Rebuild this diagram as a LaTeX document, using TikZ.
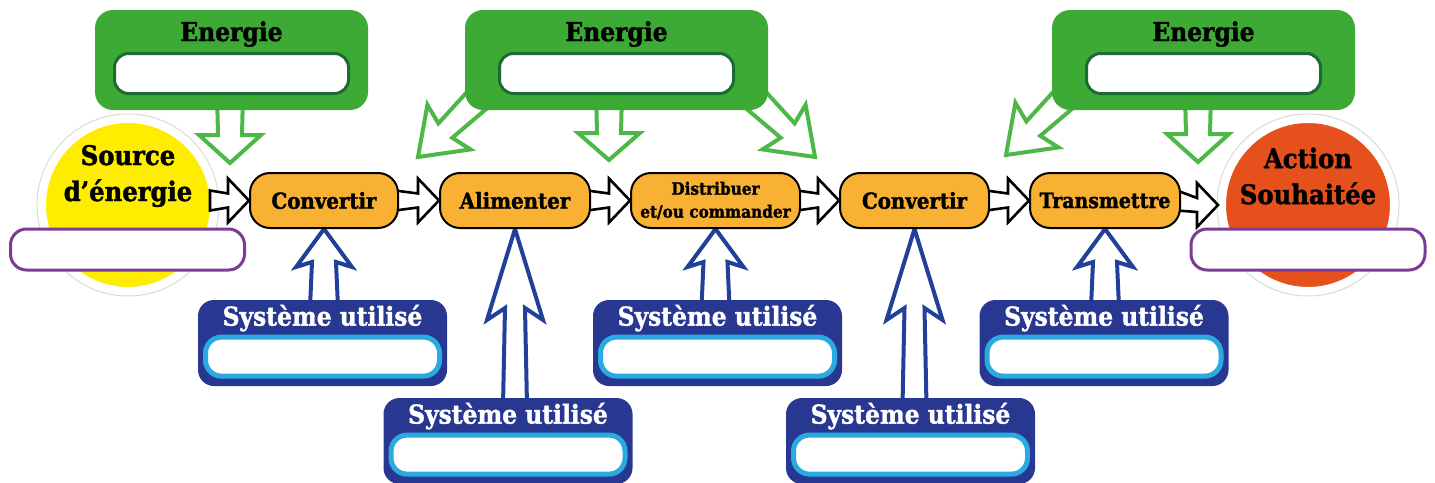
\documentclass[tikz,border=0pt]{standalone}
\usepackage{fontspec}
\setmainfont{DejaVu Serif}[FakeStretch=0.9, BoldFeatures={FakeBold=1.5}]
\usetikzlibrary{calc}
\pgfdeclarelayer{back}
\pgfdeclarelayer{links}
\pgfsetlayers{back,links,main}

\definecolor{boxgreen}{HTML}{3DAA35}
\definecolor{darkgreen}{HTML}{1D6B34}
\definecolor{arrowgreen}{HTML}{4DB848}
\definecolor{procorange}{HTML}{F8B133}
\definecolor{srcyellow}{HTML}{FFED00}
\definecolor{actred}{HTML}{E6501C}
\definecolor{labelpurple}{HTML}{7D3C92}
\definecolor{navy}{HTML}{283891}
\definecolor{skyblue}{HTML}{29ABE2}
\definecolor{arrowblue}{HTML}{21409A}
\definecolor{ringgray}{HTML}{DADADA}

% hollow black arrow between two steps of the chain
\newcommand\flowarrow[2]{%
  \draw[flowarrow] ($(#1)+(-4,-10)$) -- ($(#2.west)+(-21,-7)$) -- ($(#2.west)+(-21,-22)$)
    -- (#2.west) -- ($(#2.west)+(-21,22)$) -- ($(#2.west)+(-21,7)$) -- ($(#1)+(-4,10)$) -- cycle;}

% hollow blue arrow from a "Système utilisé" box up to a step
% #1 step, #2 system box, #3 depth of the head at the shaft, #4 depth of the barbs,
% #5 half width of the shaft, #6 name of the foot coordinate
\newcommand\sysarrow[6]{%
  \coordinate (#6) at (#1.south |- #2.north);
  \draw[sysarrow] ($(#6)+(-#5-2,8)$) -- ($(#1.south)+(-#5,#3)$) -- ($(#1.south)+(-28,#4)$)
    -- (#1.south) -- ($(#1.south)+(28,#4)$) -- ($(#1.south)+(#5,#3)$) -- ($(#6)+(#5+2,8)$) -- cycle;}

% hollow green arrow leaving an "Energie" box
% #1 tip, #2 direction, #3 length, #4 depth at the shaft, #5 depth of the barbs,
% #6 half head width, #7 half shaft width at the head, #8 half shaft width at the foot
\newcommand\energyarrow[8]{%
  \draw[energyarrow, shift={(#1)}, rotate=#2] (0,0) -- (-#5,#6) -- (-#4,#7) -- (-#3,#8)
    -- (-#3,-#8) -- (-#4,-#7) -- (-#5,-#6) -- cycle;}

\begin{document}
\begin{tikzpicture}[x=0.5pt,y=-0.5pt,
  every node/.style={inner sep=0pt},
  energybox/.style={fill=boxgreen, rounded corners=9pt, minimum width=151.5pt, minimum height=50pt},
  energyfield/.style={fill=white, draw=darkgreen, line width=1.5pt, rounded corners=7pt,
    minimum width=117pt, minimum height=20pt},
  energytitle/.style={anchor=base, font=\fontsize{13}{15}\selectfont\bfseries},
  stepbox/.style={fill=procorange, draw=black, line width=1pt, rounded corners=10pt,
    minimum height=27.5pt, font=\fontsize{11}{13}\selectfont\bfseries, align=center},
  endcircle/.style={circle, draw=white, line width=4pt, minimum size=86pt},
  endring/.style={draw=ringgray, line width=0.5pt},
  endtitle/.style={align=center, font=\fontsize{13.5}{18}\selectfont\bfseries},
  outfield/.style={fill=white, draw=labelpurple, line width=1.5pt, rounded corners=8pt,
    minimum width=117pt, minimum height=20.5pt},
  sysbox/.style={fill=navy, rounded corners=8pt, minimum width=124.5pt, minimum height=43pt},
  sysfield/.style={fill=white, draw=skyblue, line width=2.5pt, rounded corners=8pt,
    minimum width=117pt, minimum height=19.5pt},
  systitle/.style={anchor=base, text=white, font=\fontsize{13}{15}\selectfont\bfseries},
  flowarrow/.style={draw=black, fill=white, line width=1.3pt},
  sysarrow/.style={draw=arrowblue, fill=white, line width=2pt},
  energyarrow/.style={draw=arrowgreen, fill=white, line width=2pt}]
\useasboundingbox (0,0) rectangle (1435,482);

% ---------- energy source and desired action ----------
\begin{pgfonlayer}{back}
  \node[endcircle, fill=srcyellow] (src) at (128,205) {};
  \node[endcircle, fill=actred] (act) at (1308,205) {};
  \draw[endring] (src.center) circle[radius=45.5pt];
  \draw[endring] (act.center) circle[radius=45.5pt];
\end{pgfonlayer}
\node[endtitle] (srct) at (128,176) {Source\\d’énergie};
\node[endtitle] (actt) at (1308,176) {Action\\Souhaitée};
\node[outfield] (srcf) at (127.5,249.5) {};
\node[outfield] (actf) at (1308,249.5) {};

% ---------- chain of functions ----------
\node[stepbox, minimum width=74pt] (conv1) at (324,200.5) {Convertir};
\node[stepbox, minimum width=75pt] (alim) at (515,200.5) {Alimenter};
\node[stepbox, minimum width=84.5pt, font=\fontsize{8.5}{11.5}\selectfont\bfseries] (dist) at (715.5,200.5) {Distribuer\\et/ou commander};
\node[stepbox, minimum width=74.5pt] (conv2) at (914.5,200.5) {Convertir};
\node[stepbox, minimum width=75pt, font=\fontsize{10.5}{13}\selectfont\bfseries] (trans) at (1105,200.5) {Transmettre};

% ---------- energy boxes ----------
\node[energybox, minimum width=136.5pt] (en1) at (231.5,60) {};
\node[energybox] (en2) at (616.5,60) {};
\node[energybox] (en3) at (1203.5,60) {};
\node[energytitle] (en1t) at (231.5,41) {Energie};
\node[energytitle] (en2t) at (616.5,41) {Energie};
\node[energytitle] (en3t) at (1203.5,41) {Energie};
\node[energyfield] (en1f) at (231.5,73.5) {};
\node[energyfield] (en2f) at (616.5,73.5) {};
\node[energyfield] (en3f) at (1203.5,73.5) {};

% ---------- systems used ----------
\node[sysbox] (sys1) at (322.5,343) {};
\node[sysbox] (sys2) at (508,441) {};
\node[sysbox] (sys3) at (717.5,343) {};
\node[sysbox] (sys4) at (910.5,441) {};
\node[sysbox] (sys5) at (1104,343) {};
\foreach \s in {1,...,5} {
  \node[systitle] (sys\s t) at ($(sys\s.north)+(0,26)$) {Système utilisé};
  \node[sysfield] (sys\s f) at ($(sys\s.north)+(0,57)$) {};
}

% ---------- connectors ----------
\begin{pgfonlayer}{links}
  \path (src.east |- conv1.west) ++(-4,0) coordinate (srcout);
  \flowarrow{srcout}{conv1}
  \flowarrow{conv1.east}{alim}
  \flowarrow{alim.east}{dist}
  \flowarrow{dist.east}{conv2}
  \flowarrow{conv2.east}{trans}
  \flowarrow{trans.east}{act}

  \sysarrow{conv1}{sys1}{33}{38}{12}{f1}
  \sysarrow{alim}{sys2}{79}{91}{10}{f2}
  \sysarrow{dist}{sys3}{33}{38}{12}{f3}
  \sysarrow{conv2}{sys4}{79}{91}{10}{f4}
  \sysarrow{trans}{sys5}{33}{38}{12}{f5}

  \coordinate (e1) at (230,163);
  \coordinate (e2l) at (418,157);
  \coordinate (e2) at (609,160);
  \coordinate (e2r) at (815,157);
  \coordinate (e3l) at (1006,155);
  \coordinate (e3) at (1198,162);
  \energyarrow{e1}{270}{70}{28}{28}{31}{12}{13}
  \energyarrow{e2}{270}{70}{27}{27}{31}{12}{13}
  \energyarrow{e3}{270}{70}{28}{28}{31}{12}{13}
  \energyarrow{e2l}{224}{100}{38}{43}{31}{10}{14}
  \energyarrow{e2r}{316}{100}{38}{43}{31}{10}{14}
  \energyarrow{e3l}{224}{100}{38}{43}{31}{10}{14}
\end{pgfonlayer}
\end{tikzpicture}
\end{document}
